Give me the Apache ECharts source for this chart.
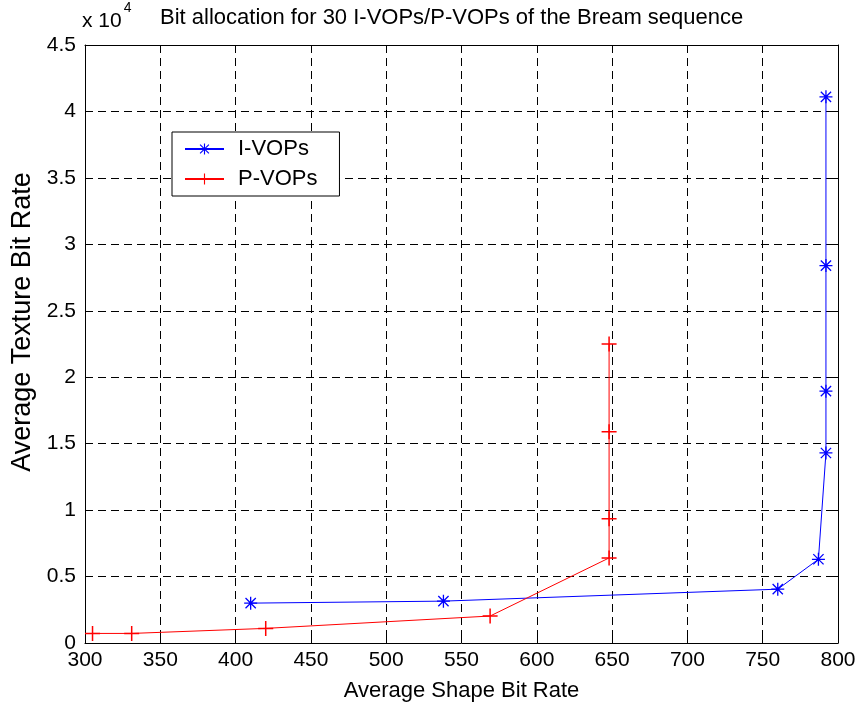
<!DOCTYPE html>
<html>
<head>
<meta charset="UTF-8">
<title>Bit allocation for 30 I-VOPs/P-VOPs of the Bream sequence</title>
<script src="https://cdn.jsdelivr.net/npm/echarts@6/dist/echarts.min.js"></script>
<style type="text/css">
    html,body{margin:0;padding:0;background:#fff;}
    #chart{width:864px;height:711px;}
</style>
</head>
<body>
<div id="chart"></div>
<script>
// data (texture bit rate in raw units, axis shows x 10^4)
var iShape   = [410, 538, 760, 787, 792, 792, 792, 792];
var iTexture = [3000, 3150, 4050, 6300, 14300, 18950, 28400, 41100];
var pShape   = [305, 331, 420, 569, 648, 648, 648, 648];
var pTexture = [720, 720, 1100, 2030, 6400, 9350, 15900, 22500];
var xTicks = [300, 350, 400, 450, 500, 550, 600, 650, 700, 750, 800];
var yTicks = ['0', '0.5', '1', '1.5', '2', '2.5', '3', '3.5', '4', '4.5'];

function pairs(xs, ys) {
    var out = [];
    for (var i = 0; i < xs.length; i++) out.push([xs[i], ys[i]]);
    return out;
}

// asterisk and plus markers built from thin filled bars
var starPath = 'path://M4.5 0L5.5 0L5.5 10L4.5 10ZM0 4.5L10 4.5L10 5.5L0 5.5Z' +
    'M0.7 1.4L1.4 0.7L9.3 8.6L8.6 9.3ZM8.6 0.7L9.3 1.4L1.4 9.3L0.7 8.6Z';
var plusPath = 'path://M4.5 0L5.5 0L5.5 10L4.5 10ZM0 4.5L10 4.5L10 5.5L0 5.5Z';

var font = 'Liberation Sans, Arial, sans-serif';
var myChart = echarts.init(document.getElementById('chart'));

var option = {
    animation: false,
    backgroundColor: '#fff',
    textStyle: { fontFamily: font },
    title: {
        text: 'Bit allocation for 30 I-VOPs/P-VOPs of the Bream sequence',
        left: 155,
        top: 2,
        textStyle: { fontFamily: font, fontWeight: 'normal', fontSize: 22, color: '#000' }
    },
    graphic: [
        {
            type: 'text',
            left: 82,
            top: 1,
            style: {
                text: '{a|x 10}{b|4}',
                rich: {
                    a: { fontFamily: font, fontSize: 21, fill: '#000', padding: [10, 0, 0, 0] },
                    b: { fontFamily: font, fontSize: 14, fill: '#000', verticalAlign: 'top', padding: [0, 0, 0, 2] }
                }
            }
        },
        {
            // y-axis title, placed where the reference puts it
            type: 'text',
            x: 23,
            y: 322,
            rotation: Math.PI / 2,
            style: {
                text: 'Average Texture Bit Rate',
                fontFamily: font,
                fontSize: 27,
                fill: '#000',
                align: 'center',
                verticalAlign: 'middle'
            }
        }
    ],
    legend: {
        orient: 'vertical',
        left: 172,
        top: 132,
        padding: [6, 22, 6, 12],
        itemGap: 8,
        itemWidth: 39,
        itemHeight: 14,
        borderColor: '#000',
        borderWidth: 1,
        backgroundColor: '#fff',
        borderRadius: 0,
        textStyle: { fontFamily: font, fontSize: 22, color: '#000', padding: [0, 0, 0, 9] },
        data: ['I-VOPs', 'P-VOPs']
    },
    grid: { left: 85, right: 26, top: 45, bottom: 68, containLabel: false },
    xAxis: [
        {
            type: 'value',
            min: xTicks[0],
            max: xTicks[xTicks.length - 1],
            interval: 50,
            name: 'Average Shape Bit Rate',
            nameLocation: 'middle',
            nameGap: 37,
            nameTextStyle: { fontFamily: font, fontSize: 22, color: '#000' },
            axisLine: { show: true, onZero: false, lineStyle: { color: '#000', width: 1 } },
            axisTick: { show: true, inside: true, length: 6, lineStyle: { color: '#000' } },
            axisLabel: { fontFamily: font, fontSize: 21, color: '#000', margin: 7 },
            splitLine: { show: true, lineStyle: { color: '#000', type: [8, 5], width: 1 } }
        },
        {
            type: 'value',
            position: 'top',
            min: xTicks[0],
            max: xTicks[xTicks.length - 1],
            interval: 50,
            axisLine: { show: true, onZero: false, lineStyle: { color: '#000', width: 1 } },
            axisTick: { show: true, inside: true, length: 6, lineStyle: { color: '#000' } },
            axisLabel: { show: false },
            splitLine: { show: false }
        }
    ],
    yAxis: [
        {
            type: 'value',
            min: 0,
            max: 45000,
            interval: 5000,
            axisLine: { show: true, onZero: false, lineStyle: { color: '#000', width: 1 } },
            axisTick: { show: true, inside: true, length: 6, lineStyle: { color: '#000' } },
            axisLabel: {
                fontFamily: font, fontSize: 21, color: '#000', margin: 9,
                formatter: function (v) { return yTicks[Math.round(v / 5000)]; }
            },
            splitLine: { show: true, lineStyle: { color: '#000', type: [8, 5], width: 1 } }
        },
        {
            type: 'value',
            position: 'right',
            min: 0,
            max: 45000,
            interval: 5000,
            axisLine: { show: true, onZero: false, lineStyle: { color: '#000', width: 1 } },
            axisTick: { show: true, inside: true, length: 6, lineStyle: { color: '#000' } },
            axisLabel: { show: false },
            splitLine: { show: false }
        }
    ],
    series: [
        {
            name: 'I-VOPs',
            type: 'line',
            xAxisIndex: 0,
            yAxisIndex: 0,
            data: pairs(iShape, iTexture),
            symbol: starPath,
            symbolSize: 13,
            showAllSymbol: true,
            lineStyle: { color: '#0000ff', width: 1 },
            itemStyle: { color: '#0000ff' }
        },
        {
            name: 'P-VOPs',
            type: 'line',
            xAxisIndex: 0,
            yAxisIndex: 0,
            data: pairs(pShape, pTexture),
            symbol: plusPath,
            symbolSize: 15,
            showAllSymbol: true,
            lineStyle: { color: '#ff0000', width: 1 },
            itemStyle: { color: '#ff0000' }
        }
    ]
};

if (option && typeof option === 'object') {
    myChart.setOption(option);
}
window.onresize = function () { myChart.resize(); };
</script>
</body>
</html>
